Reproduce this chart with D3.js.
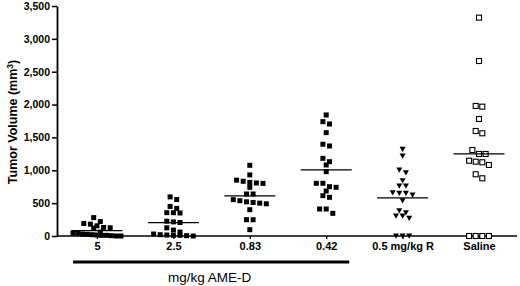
<!DOCTYPE html>
<html><head><meta charset="utf-8">
<script src="https://cdn.jsdelivr.net/npm/d3@7"></script>
<style>
body{margin:0;background:#fff;}
svg{display:block;}
text{font-family:"Liberation Sans",Arial,sans-serif;fill:#000;}
</style></head>
<body><svg id="c" width="520" height="286"></svg>
<script>
const categories = ["5", "2.5", "0.83", "0.42", "0.5 mg/kg R", "Saline"];
const values5 = [280,220,190,180,155,130,125,120,60,45,40,30,25,20,15,10,10,5,0,0];
const values2_5 = [595,555,450,420,355,355,350,225,215,205,125,90,60,30,20,15,10,10,5,0];
const values0_83 = [1076,930,850,833,815,807,800,741,639,639,553,537,520,510,500,490,400,248,248,96];
const values0_42 = [1842,1740,1705,1573,1396,1370,1182,1131,1081,979,802,802,750,741,685,614,589,411,411,345];
const valuesR = [1319,1218,1005,964,842,761,761,659,650,650,624,537,385,355,304,304,269,0,0,0];
const valuesSaline = [3323,2663,1979,1968,1781,1598,1563,1309,1248,1248,1146,1131,1122,1081,939,878,0,0,0,0];
const markers = ["square","square","square","square","triangle","open"];
const yTicks = [0,500,1000,1500,2000,2500,3000,3500];
const groupLabel = "mg/kg AME-D";
const groupedCats = ["5","2.5","0.83","0.42"];

const series = [values5, values2_5, values0_83, values0_42, valuesR, valuesSaline];
const svg = d3.select("#c");
const x = d3.scalePoint().domain(categories).range([97, 479]);
const y = d3.scaleLinear().domain([0, 3500]).range([236, 6]);
const axisX0 = 57, axisX1 = 517;

// y axis
const ya = svg.append("g").attr("transform", `translate(${axisX0},0)`)
  .call(d3.axisLeft(y).tickValues(yTicks).tickFormat(d3.format(",")).tickSize(5).tickSizeOuter(0));
ya.select(".domain").attr("stroke-width", 1.8);
ya.selectAll(".tick line").attr("stroke-width", 1.5);
ya.selectAll(".tick text").attr("font-size", "10.5px").attr("font-weight", "bold")
  .attr("font-family", "'Liberation Sans',Arial,sans-serif").attr("x", -7);

// x axis
const xa = svg.append("g").attr("transform", `translate(0,${y(0)})`)
  .call(d3.axisBottom(x).tickSize(3).tickSizeOuter(0));
xa.select(".domain").remove();
xa.append("line").attr("x1", axisX0).attr("x2", axisX1).attr("stroke", "#000").attr("stroke-width", 1.6);
xa.selectAll(".tick line").attr("stroke-width", 1.3);
xa.selectAll(".tick text").attr("font-size", "11px").attr("font-weight", "bold")
  .attr("font-family", "'Liberation Sans',Arial,sans-serif").attr("y", 6).attr("dy", "0.71em");

// y title
svg.append("text").attr("transform", "translate(17,122) rotate(-90)")
  .attr("text-anchor", "middle").attr("font-size", "12.5px").attr("font-weight", "bold")
  .call(t => {
    t.append("tspan").text("Tumor Volume (mm");
    t.append("tspan").text("3").attr("font-size", "8.5px").attr("dy", "-4.5");
    t.append("tspan").text(")").attr("dy", "4.5");
  });

// group bar
svg.append("line").attr("x1", x(groupedCats[0]) - 24).attr("x2", x(groupedCats[groupedCats.length-1]) + 23)
  .attr("y1", 262).attr("y2", 262).attr("stroke", "#000").attr("stroke-width", 2.8);
svg.append("text").attr("x", (x(groupedCats[0]) + x(groupedCats[groupedCats.length-1])) / 2 - 2)
  .attr("y", 282).attr("text-anchor", "middle").attr("font-size", "13.5px").text(groupLabel);

// points
const sym = 5, spacing = 6.6, maxW = 48;
series.forEach((vals, gi) => {
  const cx = x(categories[gi]);
  const sorted = vals.slice().sort((a, b) => b - a);
  const rows = [];
  sorted.forEach(v => {
    const py = y(v);
    const last = rows[rows.length - 1];
    if (last && py - last.y0 < 4.5) last.items.push(v);
    else rows.push({y0: py, items: [v]});
  });
  const pts = [];
  rows.forEach(r => {
    const k = r.items.length;
    let sp = spacing;
    if ((k - 1) * sp > maxW) sp = maxW / (k - 1);
    r.items.forEach((v, i) => pts.push({v, dx: (i - (k - 1) / 2) * sp}));
  });
  const g = svg.append("g");
  const m = markers[gi];
  if (m === "square" || m === "open") {
    g.selectAll("rect").data(pts).join("rect")
      .attr("x", d => cx + d.dx - sym / 2).attr("y", d => y(d.v) - sym / 2)
      .attr("width", sym).attr("height", sym)
      .attr("fill", m === "open" ? "#fff" : "#000")
      .attr("stroke", m === "open" ? "#000" : "none").attr("stroke-width", 1.1);
  } else {
    g.selectAll("path").data(pts).join("path")
      .attr("d", d => { const px = cx + d.dx, py = y(d.v);
        return `M${px-3},${py-2.5}L${px+3},${py-2.5}L${px},${py+2.8}Z`; })
      .attr("fill", "#000");
  }
  const mean = d3.mean(vals);
  svg.append("line").attr("x1", cx - 25.5).attr("x2", cx + 25.5)
    .attr("y1", y(mean)).attr("y2", y(mean)).attr("stroke", "#000").attr("stroke-width", 1.2);
});
</script></body></html>
